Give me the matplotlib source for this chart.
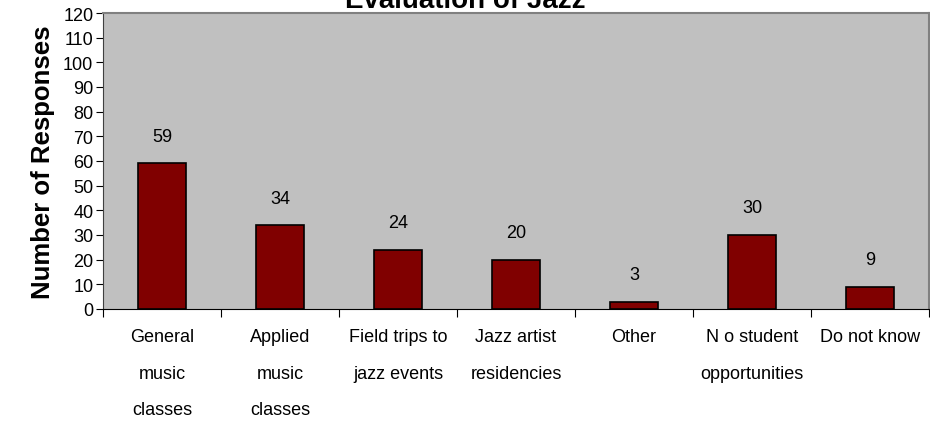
import numpy as np
import matplotlib.pyplot as plt

categories = ["General\nmusic\nclasses", "Applied\nmusic\nclasses", "Field trips to\njazz events",
              "Jazz artist\nresidencies", "Other", "N o student\nopportunities", "Do not know"]
responses = [59, 34, 24, 20, 3, 30, 9]
yticks = list(range(0, 121, 10))

plt.rcParams['font.family'] = ['Liberation Sans', 'DejaVu Sans']

fig = plt.figure(figsize=(9.3, 4.31), dpi=100)
ax = fig.add_axes([103 / 930, (431 - 310) / 431, (929 - 103) / 930, (310 - 14) / 431])
ax.set_facecolor("#C0C0C0")

x = np.arange(len(categories))
ax.bar(x, responses, width=0.41, color="#800000", edgecolor="black", linewidth=1.2, zorder=3)
for xi, v in zip(x, responses):
    ax.text(xi, v + 11, str(v), ha="center", va="center", fontsize=13)

ax.set_xlim(-0.5, len(categories) - 0.5)
ax.set_ylim(0, 120)
ax.set_yticks(yticks)
ax.set_yticklabels([str(t) for t in yticks], fontsize=13)
ax.tick_params(axis="y", direction="out", length=5, pad=2)

# category ticks sit between bars
ax.set_xticks(np.arange(-0.5, len(categories), 1.0))
ax.set_xticklabels([])
ax.set_xticks(x, minor=True)
ax.set_xticklabels(categories, minor=True, fontsize=13, linespacing=2.5, va="top")
ax.tick_params(axis="x", which="major", direction="out", length=6)
ax.tick_params(axis="x", which="minor", length=0, pad=14)

for side in ["top", "right"]:
    ax.spines[side].set_color("#808080")
    ax.spines[side].set_linewidth(1.5)
ax.spines["left"].set_color("#404040")
ax.spines["bottom"].set_color("black")

ax.set_ylabel("Number of Responses", fontsize=18.5, fontweight="bold", labelpad=6)
fig.text(0.5, 1.0 - 1 / 431, "Evaluation of Jazz", ha="center", va="center",
         fontsize=20, fontweight="bold")

fig.savefig("out.png", dpi=100)
